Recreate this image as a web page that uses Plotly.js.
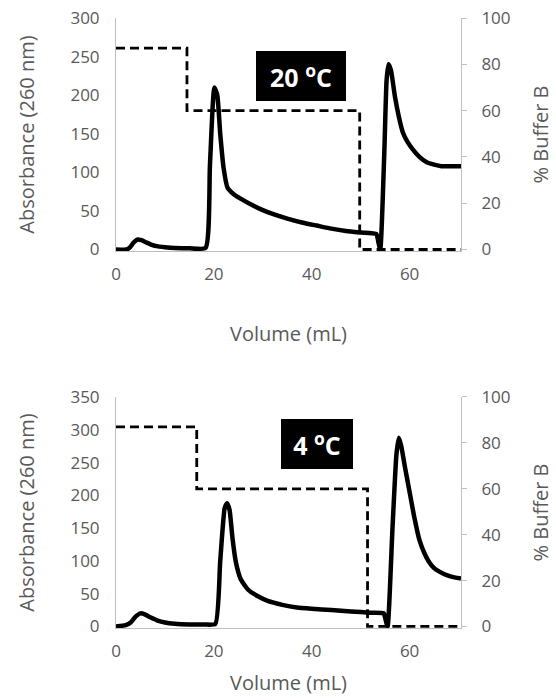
<!DOCTYPE html>
<html>
<head>
<meta charset="utf-8">
<script src="https://cdn.plot.ly/plotly-3.0.1.min.js"></script>
<style>html,body{margin:0;padding:0;background:#fff;}#chart{width:556px;height:700px;}</style>
</head>
<body>
<div id="chart"></div>
<script>
// ---- 20 °C run ----
const vol20 = [0, 2.2, 2.9, 3.6, 4.4, 5.2, 6.2, 7.3, 8.6, 10, 12, 15, 18.3, 19.2, 20.1, 20.7, 21.3, 22, 22.8, 24, 26, 28, 30, 32, 35, 38, 41, 44, 47, 50, 53.2, 53.6, 54, 54.8, 55.3, 55.7, 56.2, 57, 57.8, 58.6, 59.6, 60.6, 62, 63.5, 65, 66.5, 68, 70.5];
const abs20 = [0, 0, 3, 9, 13, 12, 9, 6, 4, 3, 2, 1.5, 2, 110, 210, 200, 150, 105, 80, 72, 64, 57, 51, 46, 40, 35, 31, 27, 24, 22, 20, 10, 0, 120, 220, 240, 232, 198, 172, 152, 139, 130, 120, 113, 110, 108, 108, 108];
const bufVol20 = [0, 14.5, 14.5, 49.8, 49.8, 70.5];
const buf20 = [87, 87, 60, 60, 0, 0];

// ---- 4 °C run ----
const vol4 = [0, 2, 3, 4, 5, 6, 7, 8.5, 10, 12, 15, 18, 20.3, 21.3, 22.2, 22.7, 23.2, 23.8, 24.5, 25.5, 27, 29, 31, 34, 37, 40, 44, 48, 52, 54.7, 55.1, 55.5, 56.5, 57.3, 57.8, 58.3, 59, 60, 61, 62, 63, 64, 65, 66, 67, 68.5, 70.5];
const abs4 = [0, 2, 6, 15, 20, 18, 14, 9, 6, 4, 3, 3, 4, 100, 180, 188, 178, 135, 98, 72, 56, 46, 39, 33, 29, 27, 25, 23, 21, 20, 10, 0, 150, 262, 288, 275, 245, 205, 165, 132, 112, 98, 89, 84, 80, 76, 73];
const bufVol4 = [0, 16.5, 16.5, 51.4, 51.4, 70.5];
const buf4 = [87, 87, 60, 60, 0, 0];

const xTicks = [0, 20, 40, 60];
const labelTop = '20 <sup>o</sup>C';
const labelBottom = '4 <sup>o</sup>C';

const gray = '#595959';
const lineGray = '#bfbfbf';
const fam = 'Open Sans, sans-serif';

const absLine = {color: '#000', width: 4.5, shape: 'spline', smoothing: 0.5};
const bufLine = {color: '#000', width: 2.8, dash: '9px,5px'};

const traces = [
  {x: bufVol20, y: buf20, xaxis: 'x', yaxis: 'y2', mode: 'lines', line: bufLine, name: '% Buffer B (20 °C)'},
  {x: vol20, y: abs20, xaxis: 'x', yaxis: 'y', mode: 'lines', line: absLine, name: 'A260 (20 °C)'},
  {x: bufVol4, y: buf4, xaxis: 'x2', yaxis: 'y4', mode: 'lines', line: bufLine, name: '% Buffer B (4 °C)'},
  {x: vol4, y: abs4, xaxis: 'x2', yaxis: 'y3', mode: 'lines', line: absLine, name: 'A260 (4 °C)'}
];

const tickFont = {family: fam, size: 17, color: gray};
const titleFont = {family: fam, size: 20, color: gray};

function xAxis(anchor, standoff) {
  return {
    anchor: anchor, domain: [0, 1], range: [0, 70.5],
    tickvals: xTicks, ticks: '', showline: true, linecolor: lineGray, linewidth: 1,
    showgrid: false, zeroline: false, tickfont: tickFont, ticklabelstandoff: 8,
    title: {text: 'Volume (mL)', font: titleFont, standoff: standoff}
  };
}
function leftAxis(anchor, domain, max) {
  return {
    anchor: anchor, domain: domain, range: [-max / 150, max], dtick: 50, tick0: 0,
    ticks: '', showline: true, linecolor: lineGray, linewidth: 1, showgrid: false, zeroline: false,
    tickfont: tickFont, ticklabelstandoff: 12,
    title: {text: 'Absorbance (260 nm)', font: titleFont, standoff: 30}
  };
}
function rightAxis(anchor, overlay) {
  return {
    anchor: anchor, overlaying: overlay, side: 'right', range: [-100 / 150, 100], dtick: 20, tick0: 0,
    ticks: 'outside', ticklen: 5, tickcolor: lineGray, showline: true, linecolor: lineGray, linewidth: 1,
    showgrid: false, zeroline: false, tickfont: tickFont, ticklabelstandoff: 11,
    title: {text: '% Buffer B', font: titleFont, standoff: 24}
  };
}

const layout = {
  width: 556, height: 700,
  margin: {l: 116, r: 95, t: 18, b: 72},
  paper_bgcolor: '#fff', plot_bgcolor: '#fff',
  showlegend: false,
  xaxis: xAxis('y', 42),
  xaxis2: xAxis('y3', 14),
  yaxis: leftAxis('x', [0.618, 1], 300),
  yaxis2: rightAxis('x', 'y'),
  yaxis3: leftAxis('x2', [0, 0.3787], 350),
  yaxis4: rightAxis('x2', 'y3'),
  annotations: [
    {xref: 'x', yref: 'y', x: 37.8, y: 225, text: labelTop, showarrow: false,
     bgcolor: '#000', font: {family: fam, size: 25, color: '#fff', weight: 'bold'},
     width: 84, height: 44, borderpad: 2, bordercolor: '#000'},
    {xref: 'x2', yref: 'y3', x: 41, y: 279, text: labelBottom, showarrow: false,
     bgcolor: '#000', font: {family: fam, size: 25, color: '#fff', weight: 'bold'},
     width: 66, height: 44, borderpad: 2, bordercolor: '#000'}
  ]
};

Plotly.newPlot('chart', traces, layout, {displayModeBar: false, staticPlot: true});
</script>
</body>
</html>
